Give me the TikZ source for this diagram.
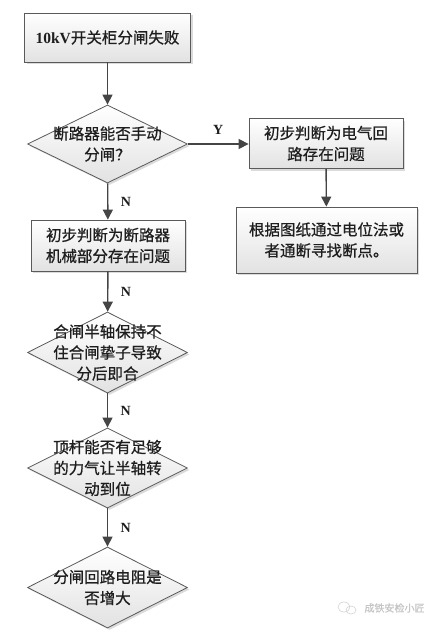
\documentclass[tikz,border=0pt]{standalone}
\usepackage{fontspec}
\setmainfont{Liberation Serif}
\newfontfamily\cjk{Noto Sans CJK SC}[FakeBold=0.7]
\usetikzlibrary{shapes.geometric,arrows.meta,shadows}
\definecolor{bordergray}{HTML}{5A5A5A}
\definecolor{linegray}{HTML}{454545}
\definecolor{boxgray}{HTML}{E2E2E2}
\definecolor{txtcol}{HTML}{1E1E1E}
\begin{document}
\begin{tikzpicture}[x=1pt,y=-1pt,
  common/.style={draw=bordergray, line width=0.8pt, top color=white, bottom color=boxgray,
    drop shadow={shadow xshift=2pt, shadow yshift=-2pt, fill=gray!55}, inner sep=0pt},
  box/.style={common, rectangle},
  dia/.style={common, diamond, minimum width=160pt},
  txt/.style={align=center, text=txtcol, font=\cjk\fontsize{15.5}{21}\selectfont},
  arr/.style={draw=linegray, line width=1.4pt, -{Triangle[width=10pt,length=10pt]}},
  lab/.style={text=txtcol, font=\bfseries\fontsize{14}{16}\selectfont}
]
\useasboundingbox (0,0) rectangle (436,642);
\fill[white] (0,0) rectangle (436,642);

% nodes
\node[box, minimum width=166pt, minimum height=49pt] (b1) at (107.5,37.5) {};
\node[txt] (t1) at (b1) {{\rmfamily\bfseries 10kV}开关柜分闸失败};

\node[dia, minimum height=78pt] (d1) at (107.5,144) {};
\node[txt] (t2) at (d1) {断路器能否手动\\分闸？};

\node[box, minimum width=154pt, minimum height=50pt] (b2) at (326,143.5) {};
\node[txt] (t3) at (b2) {初步判断为电气回\\路存在问题};

\node[box, minimum width=181pt, minimum height=66pt] (b3) at (326.5,240) {};
\node[txt] (t4) at (b3) {根据图纸通过电位法或\\者通断寻找断点。};

\node[box, minimum width=154pt, minimum height=51pt] (b4) at (108,245.5) {};
\node[txt] (t5) at (b4) {初步判断为断路器\\机械部分存在问题};

\node[dia, minimum height=81pt] (d2) at (107.5,352.5) {};
\node[txt] (t6) at (d2) {合闸半轴保持不\\住合闸挚子导致\\分后即合};

\node[dia, minimum height=80pt] (d3) at (107.5,468) {};
\node[txt] (t7) at (d3) {顶杆能否有足够\\的力气让半轴转\\动到位};

\node[dia, minimum height=81pt] (d4) at (107.5,587.5) {};
\node[txt] (t8) at (d4) {分闸回路电阻是\\否增大};

% connectors
\draw[arr] (b1) -- (d1);
\draw[arr] (d1.east) -- (d1.east -| b2.west) node[lab, midway, above=5pt] (ly) {Y};
\draw[arr] (b2) -- (b3);
\draw[arr] (d1) -- (b4) node[lab, midway, right=9pt] (n1) {N};
\draw[arr] (b4) -- (d2) node[lab, midway, right=9pt] (n2) {N};
\draw[arr] (d2) -- (d3) node[lab, midway, right=9pt] (n3) {N};
\draw[arr] (d3) -- (d4) node[lab, midway, right=9pt] (n4) {N};

% watermark
\node[text=gray!45, font=\cjk\fontsize{10}{12}\selectfont, anchor=west] (wm) at (361,608) {成铁安检小匠};
\draw[gray!35, line width=0.6pt] (344,607) ellipse (6pt and 5pt);
\draw[gray!35, line width=0.6pt] (351,610) ellipse (5pt and 4pt);
\end{tikzpicture}
\end{document}
